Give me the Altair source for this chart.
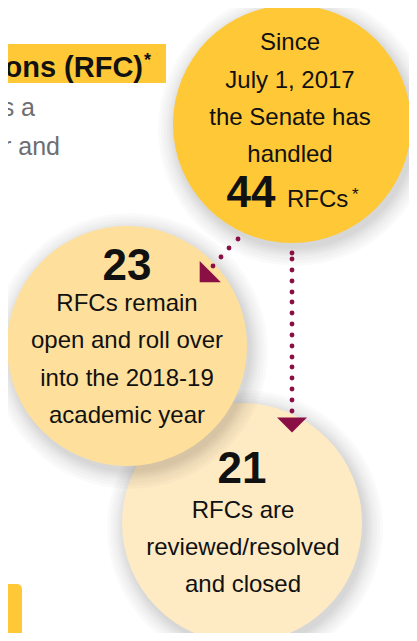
import altair as alt
import pandas as pd

# ---- data ----
circle_names = ["closed", "open", "total"]
circle_cx = [242, 127, 292]
circle_cy = [523, 346, 124]
circle_r = [120, 120, 119]
circle_colors = ["#FEEBC4", "#FEE09C", "#FEC836"]

shadow_extra = [1, 3, 5, 7, 9, 12, 15, 18]

diag_dots_x = [238, 229, 221, 213]
diag_dots_y = [239, 248, 257, 266]
vert_dots_y = [253, 259, 270, 281, 292, 302, 313, 324, 335, 346, 357, 367, 378, 389, 400, 411]
vert_dots_x = [292] * len(vert_dots_y)

arrow_x = [205, 292]
arrow_y = [277, 425]
arrow_angle = [45, 0]

# text
reg_text = ["Since", "July 1, 2017", "the Senate has", "handled",
            "RFCs remain", "open and roll over", "into the 2018-19", "academic year",
            "RFCs are", "reviewed/resolved", "and closed"]
reg_x = [290, 290, 290, 290, 127, 127, 127, 127, 243, 243, 243]
reg_y = [50, 88, 125, 162, 311, 348, 386, 423, 518, 555, 592]

big_text = ["44", "23", "21"]
big_x = [251, 127, 242]
big_y = [207, 280, 483]

X0, X1, Y0, Y1 = 8, 409, 8, 633
W, H = X1 - X0, Y1 - Y0

xs = alt.Scale(domain=[X0, X1], nice=False, zero=False)
ys = alt.Scale(domain=[Y0, Y1], nice=False, zero=False, reverse=True)


def X(f):
    return alt.X(f, type="quantitative", scale=xs, axis=None)


def Y(f):
    return alt.Y(f, type="quantitative", scale=ys, axis=None)


layers = []

# highlight boxes
boxes = pd.DataFrame({"x": [0, 0], "x2": [166, 22], "y": [44, 584], "y2": [83, 638]})
layers.append(alt.Chart(boxes.iloc[[0]]).mark_rect(color="#FEC836").encode(
    x=X("x"), x2="x2", y=Y("y"), y2="y2"))
layers.append(alt.Chart(boxes.iloc[[1]]).mark_rect(color="#FEC836", cornerRadius=5).encode(
    x=X("x"), x2="x2", y=Y("y"), y2="y2"))

for i in range(3):
    sh = pd.DataFrame({
        "x": [circle_cx[i] + 3] * len(shadow_extra),
        "y": [circle_cy[i] + 5] * len(shadow_extra),
        "s": [(2 * (circle_r[i] + e)) ** 2 for e in shadow_extra],
    })
    layers.append(alt.Chart(sh).mark_circle(color="#000000", opacity=0.02).encode(
        x=X("x"), y=Y("y"), size=alt.Size("s:Q", scale=None)))
    c = pd.DataFrame({"x": [circle_cx[i]], "y": [circle_cy[i]],
                      "s": [(2 * circle_r[i]) ** 2]})
    layers.append(alt.Chart(c).mark_circle(color=circle_colors[i], opacity=1).encode(
        x=X("x"), y=Y("y"), size=alt.Size("s:Q", scale=None)))

# dots
dots = pd.DataFrame({"x": diag_dots_x + vert_dots_x, "y": diag_dots_y + vert_dots_y})
layers.append(alt.Chart(dots).mark_circle(color="#8A0F45", opacity=1, size=24).encode(
    x=X("x"), y=Y("y")))

tri = "M-1,-0.5L1,-0.5L0,0.5Z"
for i in range(2):
    a = pd.DataFrame({"x": [arrow_x[i]], "y": [arrow_y[i]]})
    layers.append(alt.Chart(a).mark_point(shape=tri, filled=True, fill="#8A0F45",
                                          strokeWidth=0, opacity=1, size=900,
                                          angle=arrow_angle[i]).encode(
        x=X("x"), y=Y("y")))

font = "Liberation Sans"

reg = pd.DataFrame({"t": reg_text, "x": reg_x, "y": reg_y})
layers.append(alt.Chart(reg).mark_text(font=font, fontSize=24, color="#111111",
                                       align="center", baseline="alphabetic").encode(
    x=X("x"), y=Y("y"), text="t:N"))

big = pd.DataFrame({"t": big_text, "x": big_x, "y": big_y})
layers.append(alt.Chart(big).mark_text(font=font, fontSize=44, fontWeight="bold", color="#111111",
                                       align="center", baseline="alphabetic").encode(
    x=X("x"), y=Y("y"), text="t:N"))

rfcs = pd.DataFrame({"t": ["RFCs"], "x": [287], "y": [207]})
layers.append(alt.Chart(rfcs).mark_text(font=font, fontSize=24, color="#111111",
                                        align="left", baseline="alphabetic").encode(
    x=X("x"), y=Y("y"), text="t:N"))
star = pd.DataFrame({"t": ["*"], "x": [352], "y": [200]})
layers.append(alt.Chart(star).mark_text(font=font, fontSize=17, color="#111111",
                                        align="left", baseline="alphabetic").encode(
    x=X("x"), y=Y("y"), text="t:N"))

title = pd.DataFrame({"t": ["ons (RFC)"], "x": [143], "y": [77]})
layers.append(alt.Chart(title).mark_text(font=font, fontSize=29, fontWeight="bold", color="#111111",
                                         align="right", baseline="alphabetic").encode(
    x=X("x"), y=Y("y"), text="t:N"))
tstar = pd.DataFrame({"t": ["*"], "x": [144], "y": [66]})
layers.append(alt.Chart(tstar).mark_text(font=font, fontSize=18, fontWeight="bold", color="#111111",
                                         align="left", baseline="alphabetic").encode(
    x=X("x"), y=Y("y"), text="t:N"))

grey = pd.DataFrame({"t": ["s a", "r and"], "x": [35, 60], "y": [116, 155]})
layers.append(alt.Chart(grey).mark_text(font=font, fontSize=25, color="#6D6E71",
                                        align="right", baseline="alphabetic").encode(
    x=X("x"), y=Y("y"), text="t:N"))

chart = alt.layer(*layers).properties(
    width=W, height=H, padding=0, autosize=alt.AutoSizeParams(type="none"),
    background="#FFFFFF"
).configure_view(strokeWidth=0)

chart.save("out.html", embed_options={"renderer": "svg", "actions": False})
